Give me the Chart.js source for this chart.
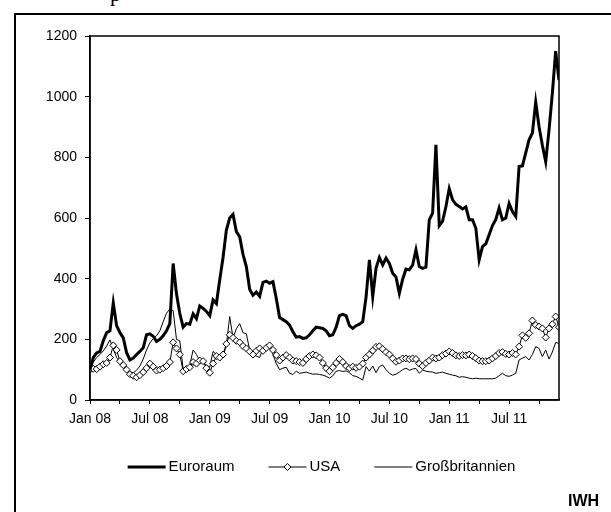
<!DOCTYPE html>
<html>
<head>
<meta charset="utf-8">
<script src="https://cdn.jsdelivr.net/npm/chart.js@4.4.0/dist/chart.umd.min.js"></script>
<style>
  html, body { margin: 0; padding: 0; background: #fff; }
  #wrap { position: relative; width: 611px; height: 512px; overflow: hidden; }
  #frame { position: absolute; left: 14px; top: 13px; width: 700px; height: 600px; border: 2px solid #000; }
  #cut { position: absolute; left: 110px; top: -17px; font: 22px/22px "Liberation Serif", serif; }
  #iwh { position: absolute; left: 568px; top: 492px; font: bold 16px "Liberation Sans", Arial, sans-serif; }
  canvas { position: absolute; left: 0; top: 0; }
</style>
</head>
<body>
<div id="wrap">
  <div id="cut">p</div>
  <div id="frame"></div>
  <canvas id="chart" width="611" height="512"></canvas>
  <div id="iwh">IWH</div>
</div>
<script>
// x-axis labels, one every six months starting Jan 2008
const tickLabels = ["Jan 08", "Jul 08", "Jan 09", "Jul 09", "Jan 10", "Jul 10", "Jan 11", "Jul 11"];
const seriesNames = ["Euroraum", "USA", "Großbritannien"];

// three readings per month, Jan 2008 .. Dec 2011 (index, Jan 2008 = 100)
const euroraum = [
  100, 140, 155,   160, 195, 222,   228, 320, 245,   222, 205, 156,
  132, 138, 150,   160, 172, 215,   218, 210, 193,   200, 212, 228,
  252, 450, 350,   285, 240, 252,   250, 284, 268,   310, 302, 292,
  278, 330, 318,   396, 470, 560,   600, 612, 555,   538, 480, 440,
  365, 345, 356,   342, 388, 392,   385, 390, 335,   272, 265, 258,
  247, 225, 207,   209, 203, 205,   215, 228, 240,   238, 236, 228,
  212, 215, 240,   278, 282, 278,   245, 236, 245,   250, 258, 340,
  462, 341, 435,   470, 445, 468,   450, 418, 405,   352, 398, 432,
  429, 445, 495,   440, 434, 438,   594, 616, 841,   575, 590, 637,
  697, 660, 645,   638, 630, 637,   594, 594, 566,   462, 506, 515,
  545, 575, 595,   633, 594, 600,   648, 621, 605,   770, 772, 815,
  858, 880, 982,   901, 840, 786,   890, 1011, 1150, 1055
];

const usa = [
  100, 103, 102,   110, 118, 122,   140, 180, 165,   128, 115, 100,
  85, 80, 75,      82, 92, 105,     120, 110, 97,    100, 105, 112,
  125, 190, 170,   150, 95, 102,    108, 125, 120,   130, 128, 105,
  90, 120, 145,    140, 150, 185,   215, 205, 195,   190, 178, 170,
  160, 150, 162,   170, 162, 172,   180, 165, 148,   130, 140, 148,
  140, 130, 128,   125, 122, 135,   145, 150, 147,   140, 122, 105,
  95, 108, 122,    135, 125, 112,   105, 110, 106,   110, 120, 140,
  150, 163, 175,   177, 168, 158,   150, 137, 126,   130, 137, 137,
  135, 137, 135,   120, 112, 122,   130, 140, 137,   140, 148, 153,
  160, 155, 147,   145, 148, 147,   150, 145, 138,   130, 128, 128,
  130, 137, 145,   155, 158, 152,   150, 155, 150,   176, 213, 205,
  220, 262, 247,   242, 236, 206,   236, 250, 275,   240
];

const grossbritannien = [
  100, 125, 140,   150, 162, 178,   198, 168, 140,   125, 112, 100,
  92, 90, 98,      112, 135, 165,   188, 202, 212,   228, 258, 286,
  300, 295, 200,   195, 102, 106,   115, 165, 150,   130, 125, 115,
  108, 160, 150,   140, 145, 180,   275, 205, 235,   252, 222, 218,
  165, 150, 145,   140, 170, 165,   180, 150, 120,   100, 105, 108,
  88, 84, 95,      88, 90, 92,      88, 85, 86,      84, 82, 78,
  72, 80, 95,      97, 94, 96,      90, 80, 78,      72, 66, 110,
  95, 112, 90,     110, 115, 100,   88, 82, 85,      92, 100, 105,
  98, 102, 104,    88, 99, 95,      93, 92, 88,      90, 92, 88,
  85, 82, 80,      75, 77, 75,      72, 70, 72,      70, 70, 70,
  70, 70, 72,      80, 88, 80,      78, 82, 88,      132, 138, 143,
  132, 150, 176,   170, 143, 165,   135, 158, 190,   186
];

const FONT = "'Liberation Sans', Arial, sans-serif";

// position on the month axis (Jan 08 = 0)
function toPoints(values) {
  return values.map((v, i) => ({ x: i / 3, y: v }));
}

// closes the plot box on top and right
const framePlugin = {
  id: "frame",
  afterDraw(chart) {
    const { ctx, chartArea: a } = chart;
    ctx.save();
    ctx.strokeStyle = "#000";
    ctx.lineWidth = 1.5;
    ctx.strokeRect(a.left, a.top, a.right - a.left, a.bottom - a.top);
    ctx.restore();
  },
};

// line-style legend below the axis
const legendPlugin = {
  id: "lineLegend",
  afterDraw(chart) {
    const { ctx, chartArea: a } = chart;
    const y = 467;
    const lineLen = 38, textGap = 3, itemGap = 34;
    ctx.save();
    ctx.font = "15px " + FONT;
    ctx.textBaseline = "middle";
    ctx.fillStyle = "#000";
    const widths = seriesNames.map((n) => lineLen + textGap + ctx.measureText(n).width);
    const total = widths.reduce((s, w) => s + w, 0) + itemGap * (widths.length - 1);
    let x = (a.left + a.right) / 2 - total / 2 - 3;
    chart.data.datasets.forEach((ds, i) => {
      ctx.strokeStyle = "#000";
      ctx.lineWidth = ds.borderWidth;
      ctx.beginPath();
      ctx.moveTo(x, y);
      ctx.lineTo(x + lineLen, y);
      ctx.stroke();
      if (ds.pointRadius > 0) {
        const cx = x + lineLen / 2, r = ds.pointRadius;
        ctx.beginPath();
        ctx.moveTo(cx, y - r);
        ctx.lineTo(cx + r, y);
        ctx.lineTo(cx, y + r);
        ctx.lineTo(cx - r, y);
        ctx.closePath();
        ctx.fillStyle = "#fff";
        ctx.fill();
        ctx.lineWidth = 1;
        ctx.stroke();
        ctx.fillStyle = "#000";
      }
      ctx.fillText(seriesNames[i], x + lineLen + textGap, y);
      x += widths[i] + itemGap;
    });
    ctx.restore();
  },
};

const ctx = document.getElementById("chart").getContext("2d");
new Chart(ctx, {
  type: "line",
  data: {
    datasets: [
      {
        label: seriesNames[0],
        data: toPoints(euroraum),
        borderColor: "#000",
        borderWidth: 3,
        pointRadius: 0,
        tension: 0,
      },
      {
        label: seriesNames[1],
        data: toPoints(usa),
        borderColor: "#000",
        borderWidth: 1,
        pointStyle: "rectRot",
        pointRadius: 3.5,
        pointBackgroundColor: "#fff",
        pointBorderColor: "#000",
        pointBorderWidth: 1,
        tension: 0,
      },
      {
        label: seriesNames[2],
        data: toPoints(grossbritannien),
        borderColor: "#000",
        borderWidth: 1,
        pointRadius: 0,
        tension: 0,
      },
    ],
  },
  options: {
    responsive: false,
    animation: false,
    devicePixelRatio: 1,
    layout: { padding: { left: 15, right: 52, top: 36, bottom: 82 } },
    plugins: {
      legend: { display: false },
      tooltip: { enabled: false },
    },
    scales: {
      x: {
        type: "linear",
        min: 0,
        max: 47,
        afterFit: (s) => { s.height = 30; },
        grid: { drawOnChartArea: false, color: "#000", tickLength: 4 },
        border: { color: "#000", width: 1.5 },
        ticks: {
          stepSize: 3,
          includeBounds: false,
          autoSkip: false,
          maxRotation: 0,
          padding: 7,
          color: "#000",
          font: { family: FONT, size: 14 },
          callback: (v) => (v % 6 === 0 ? tickLabels[v / 6] : ""),
        },
      },
      y: {
        min: 0,
        max: 1200,
        afterFit: (s) => { s.width = 75; },
        grid: { drawOnChartArea: false, color: "#000", tickLength: 5 },
        border: { color: "#000", width: 1.5 },
        ticks: {
          stepSize: 200,
          padding: 8,
          color: "#000",
          font: { family: FONT, size: 14 },
          callback: (v) => String(v),
        },
      },
    },
  },
  plugins: [framePlugin, legendPlugin],
});
</script>
</body>
</html>
